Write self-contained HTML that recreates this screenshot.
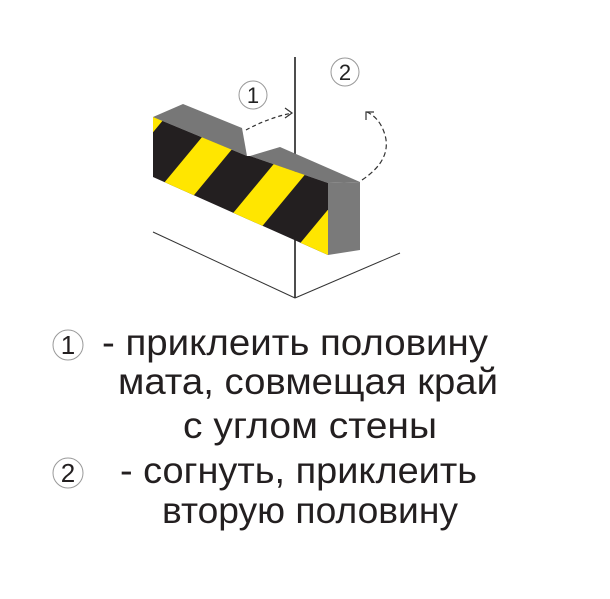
<!DOCTYPE html>
<html><head><meta charset="utf-8"><style>html,body{margin:0;padding:0;background:#fff}svg{display:block}</style></head>
<body>
<svg width="610" height="599" viewBox="0 0 610 599" xmlns="http://www.w3.org/2000/svg">
<defs>
<clipPath id="front"><polygon points="153,117 247,156 250,156 328,183 328,255 153,177"/></clipPath>
</defs>
<line x1="295" y1="57" x2="295" y2="298" stroke="#222" stroke-width="1.6"/>
<line x1="295" y1="298" x2="153" y2="232" stroke="#333" stroke-width="1"/>
<line x1="295" y1="298" x2="400" y2="253" stroke="#333" stroke-width="1"/>
<polygon points="153,117 183,104 242,128 247,156" fill="#777"/>
<polygon points="250,156 280,147 360,182 328,183" fill="#777"/>
<polygon points="328,183 360,182 360,250 328,255" fill="#7a7a7a"/>
<polygon points="153,117 247,156 250,156 328,183 328,255 153,177" fill="#231f20"/>
<g clip-path="url(#front)" fill="#ffe600">
<polygon points="148,90 188,90 39,270 -1,270"/>
<polygon points="241,90 281,90 132,270 92,270"/>
<polygon points="335,90 375,90 226,270 186,270"/>
<polygon points="427,90 467,90 318,270 278,270"/>
</g>
<path d="M246,130 Q268,118 292,113" fill="none" stroke="#333" stroke-width="1.2" stroke-dasharray="4,3"/>
<path d="M285,108 L292,113 L285,118" fill="none" stroke="#333" stroke-width="1.2"/>
<path d="M362,180 Q392,160 385,135 Q380,118 367,112" fill="none" stroke="#333" stroke-width="1.2" stroke-dasharray="5,3"/>
<path d="M366,120 L366,112 L374,112" fill="none" stroke="#333" stroke-width="1.2"/>
<circle cx="253" cy="95" r="14" fill="#fff" stroke="#999" stroke-width="1"/>
<text x="253" y="103" font-family="Liberation Sans, sans-serif" font-size="22" text-anchor="middle" fill="#222">1</text>
<circle cx="345" cy="72" r="14" fill="#fff" stroke="#999" stroke-width="1"/>
<text x="345" y="80" font-family="Liberation Sans, sans-serif" font-size="22" text-anchor="middle" fill="#222">2</text>
<g font-family="Liberation Sans, 'Noto Sans CJK SC', sans-serif" font-size="37" fill="#231f20">
<circle cx="68" cy="345" r="15" fill="#fff" stroke="#999" stroke-width="1"/>
<text x="68" y="354" font-size="26" text-anchor="middle">1</text>
<circle cx="68" cy="473" r="15" fill="#fff" stroke="#999" stroke-width="1"/>
<text x="68" y="482" font-size="26" text-anchor="middle">2</text>
<text x="102" y="355" textLength="386" lengthAdjust="spacingAndGlyphs">- приклеить половину</text>
<text x="118" y="394" textLength="380" lengthAdjust="spacingAndGlyphs">мата, совмещая край</text>
<text x="183" y="438" textLength="254" lengthAdjust="spacingAndGlyphs">с углом стены</text>
<text x="120" y="483" textLength="357" lengthAdjust="spacingAndGlyphs">- согнуть, приклеить</text>
<text x="162" y="523" textLength="296" lengthAdjust="spacingAndGlyphs">вторую половину</text>
</g>
</svg>
</body></html>
